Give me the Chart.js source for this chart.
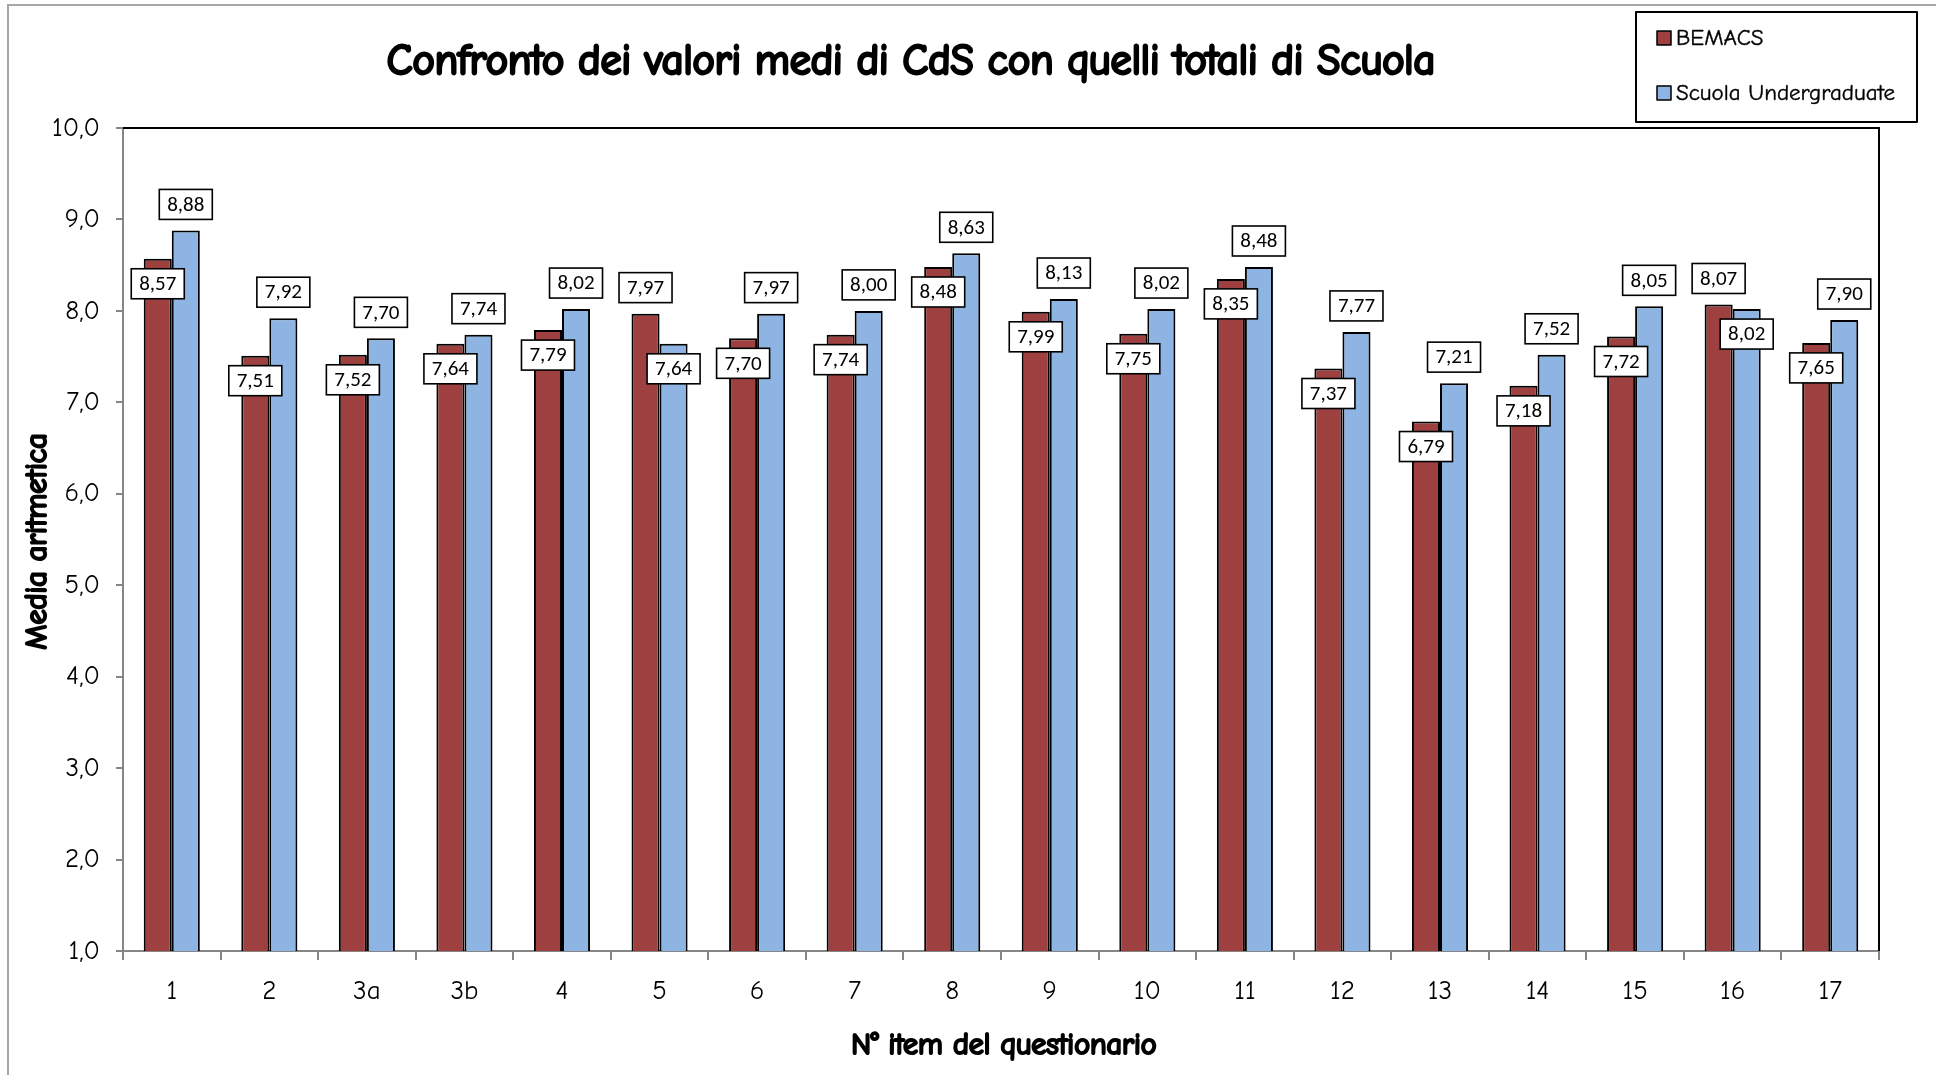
<!DOCTYPE html>
<html>
<head>
<meta charset="utf-8">
<title>Confronto dei valori medi di CdS con quelli totali di Scuola</title>
<script src="https://cdn.jsdelivr.net/npm/chart.js"></script>
<style>
  html, body { margin: 0; padding: 0; background: #fff; }
  #wrap { width: 1936px; height: 1075px; position: relative; }
</style>
</head>
<body>
<div id="wrap"><canvas id="mediaChart"></canvas></div>
<script>
// dati
const items = ['1', '2', '3a', '3b', '4', '5', '6', '7', '8', '9', '10', '11', '12', '13', '14', '15', '16', '17'];
const bemacs = [8.57, 7.51, 7.52, 7.64, 7.79, 7.97, 7.70, 7.74, 8.48, 7.99, 7.75, 8.35, 7.37, 6.79, 7.18, 7.72, 8.07, 7.65];
const scuola = [8.88, 7.92, 7.70, 7.74, 8.02, 7.64, 7.97, 8.00, 8.63, 8.13, 8.02, 8.48, 7.77, 7.21, 7.52, 8.05, 8.02, 7.90];
const seriesNames = ['BEMACS', 'Scuola Undergraduate'];
const chartTitle = 'Confronto dei valori medi di CdS con quelli totali di Scuola';
const xTitle = 'N° item del questionario';
const yTitle = 'Media aritmetica';
const yMin = 1, yMax = 10, yStep = 1;

const comic = "'Comic Sans MS', 'Comic Neue', Lato, 'Noto Sans', sans-serif";
const calibri = "Carlito, Calibri, Lato, 'Open Sans', sans-serif";
const redColor = '#9E4040';
const blueColor = '#8DB4E2';

const fmt = (v, d) => v.toFixed(d).replace('.', ',');

// testo "grassetto" (il font disponibile non ha il peso bold)
function boldText(ctx, text, x, y, weight) {
    ctx.lineWidth = weight;
    ctx.strokeStyle = '#000';
    ctx.lineJoin = 'round';
    ctx.strokeText(text, x, y);
    ctx.fillText(text, x, y);
}

// bordo esterno grigio e cornice dell'area del grafico
const framePlugin = {
    id: 'frame',
    beforeDraw(chart) {
        const ctx = chart.ctx;
        ctx.save();
        ctx.fillStyle = '#fff';
        ctx.fillRect(0, 0, chart.width, chart.height);
        ctx.strokeStyle = '#A6A6A6';
        ctx.lineWidth = 2;
        ctx.beginPath();
        ctx.moveTo(8, chart.height);
        ctx.lineTo(8, 5);
        ctx.lineTo(chart.width, 5);
        ctx.stroke();
        ctx.restore();
    },
    beforeDatasetsDraw(chart) {
        const a = chart.chartArea;
        const ctx = chart.ctx;
        ctx.save();
        ctx.strokeStyle = '#000';
        ctx.lineWidth = 2;
        ctx.beginPath();
        ctx.moveTo(a.left, a.top);
        ctx.lineTo(a.right, a.top);
        ctx.lineTo(a.right, a.bottom);
        ctx.stroke();
        ctx.restore();
    }
};

// etichette dei valori in riquadri bianchi
const valueLabels = {
    id: 'valueLabels',
    afterDatasetsDraw(chart) {
        const ctx = chart.ctx;
        const m0 = chart.getDatasetMeta(0), m1 = chart.getDatasetMeta(1);
        ctx.save();
        ctx.font = '21px ' + calibri;
        ctx.textAlign = 'center';
        ctx.textBaseline = 'middle';
        items.forEach((it, i) => {
            const vals = [bemacs[i], scuola[i]];
            const higher = vals[0] > vals[1] ? 0 : 1;
            [m0, m1].forEach((meta, d) => {
                const bar = meta.data[i];
                const cy = d === higher ? bar.y - 26 : bar.y + 25;
                const w = 53, h = 30;
                ctx.fillStyle = '#fff';
                ctx.fillRect(bar.x - w / 2, cy - h / 2, w, h);
                ctx.strokeStyle = '#000';
                ctx.lineWidth = 1.6;
                ctx.strokeRect(bar.x - w / 2, cy - h / 2, w, h);
                ctx.fillStyle = '#000';
                ctx.fillText(fmt(vals[d], 2), bar.x, cy + 1);
            });
        });
        ctx.restore();
    }
};

// titolo, titoli degli assi e legenda
const titleLegend = {
    id: 'titleLegend',
    afterDraw(chart) {
        const ctx = chart.ctx;
        const a = chart.chartArea;
        ctx.save();
        ctx.fillStyle = '#000';
        ctx.textAlign = 'center';
        ctx.textBaseline = 'middle';
        ctx.font = '42px ' + comic;
        boldText(ctx, chartTitle, 911, 62, 2.8);

        ctx.font = '30px ' + comic;
        boldText(ctx, xTitle, (a.left + a.right) / 2 + 3, 1046, 2.2);
        ctx.save();
        ctx.translate(38, (a.top + a.bottom) / 2 + 2);
        ctx.rotate(-Math.PI / 2);
        boldText(ctx, yTitle, 0, 0, 2.2);
        ctx.restore();

        // riquadro legenda
        ctx.strokeStyle = '#000';
        ctx.lineWidth = 2;
        ctx.fillStyle = '#fff';
        ctx.fillRect(1636, 12, 281, 110);
        ctx.strokeRect(1636, 12, 281, 110);
        ctx.font = '23px ' + comic;
        ctx.textAlign = 'left';
        const rows = [38, 93];
        chart.data.datasets.forEach((ds, d) => {
            const y = rows[d];
            ctx.fillStyle = ds.backgroundColor;
            ctx.fillRect(1657, y - 7, 14, 14);
            ctx.lineWidth = 1.5;
            ctx.strokeStyle = '#000';
            ctx.strokeRect(1657, y - 7, 14, 14);
            ctx.fillStyle = '#000';
            boldText(ctx, ds.label, 1676, y, 0.4);
        });
        ctx.restore();
    }
};

let mediaChart;

function initializeChart() {
    const ctx = document.getElementById('mediaChart').getContext('2d');
    mediaChart = new Chart(ctx, {
        type: 'bar',
        data: {
            labels: items,
            datasets: [{
                label: seriesNames[0],
                data: bemacs,
                backgroundColor: redColor,
                borderColor: '#000',
                borderWidth: 2
            }, {
                label: seriesNames[1],
                data: scuola,
                backgroundColor: blueColor,
                borderColor: '#000',
                borderWidth: 2
            }]
        },
        options: {
            responsive: true,
            maintainAspectRatio: false,
            animation: false,
            layout: { padding: { top: 128, right: 57, left: 0, bottom: 0 } },
            datasets: { bar: { categoryPercentage: 0.575, barPercentage: 1 } },
            plugins: {
                legend: { display: false },
                title: { display: false },
                tooltip: { enabled: false }
            },
            scales: {
                x: {
                    afterFit: (scale) => { scale.height = 124; },
                    grid: {
                        offset: true,
                        drawOnChartArea: false,
                        drawTicks: true,
                        tickLength: 9,
                        color: '#868686',
                        lineWidth: 2
                    },
                    border: { color: '#868686', width: 2 },
                    ticks: {
                        color: '#000',
                        padding: 15,
                        font: { family: comic, size: 27 }
                    }
                },
                y: {
                    min: yMin,
                    max: yMax,
                    afterFit: (scale) => { scale.width = 123; },
                    grid: {
                        drawOnChartArea: false,
                        drawTicks: true,
                        tickLength: 7,
                        color: '#868686',
                        lineWidth: 2
                    },
                    border: { color: '#868686', width: 2 },
                    ticks: {
                        stepSize: yStep,
                        color: '#000',
                        padding: 16,
                        font: { family: comic, size: 27 },
                        callback: (v) => fmt(v, 1)
                    }
                }
            }
        },
        plugins: [framePlugin, valueLabels, titleLegend]
    });
}

document.addEventListener('DOMContentLoaded', () => {
    initializeChart();
});
</script>
</body>
</html>
